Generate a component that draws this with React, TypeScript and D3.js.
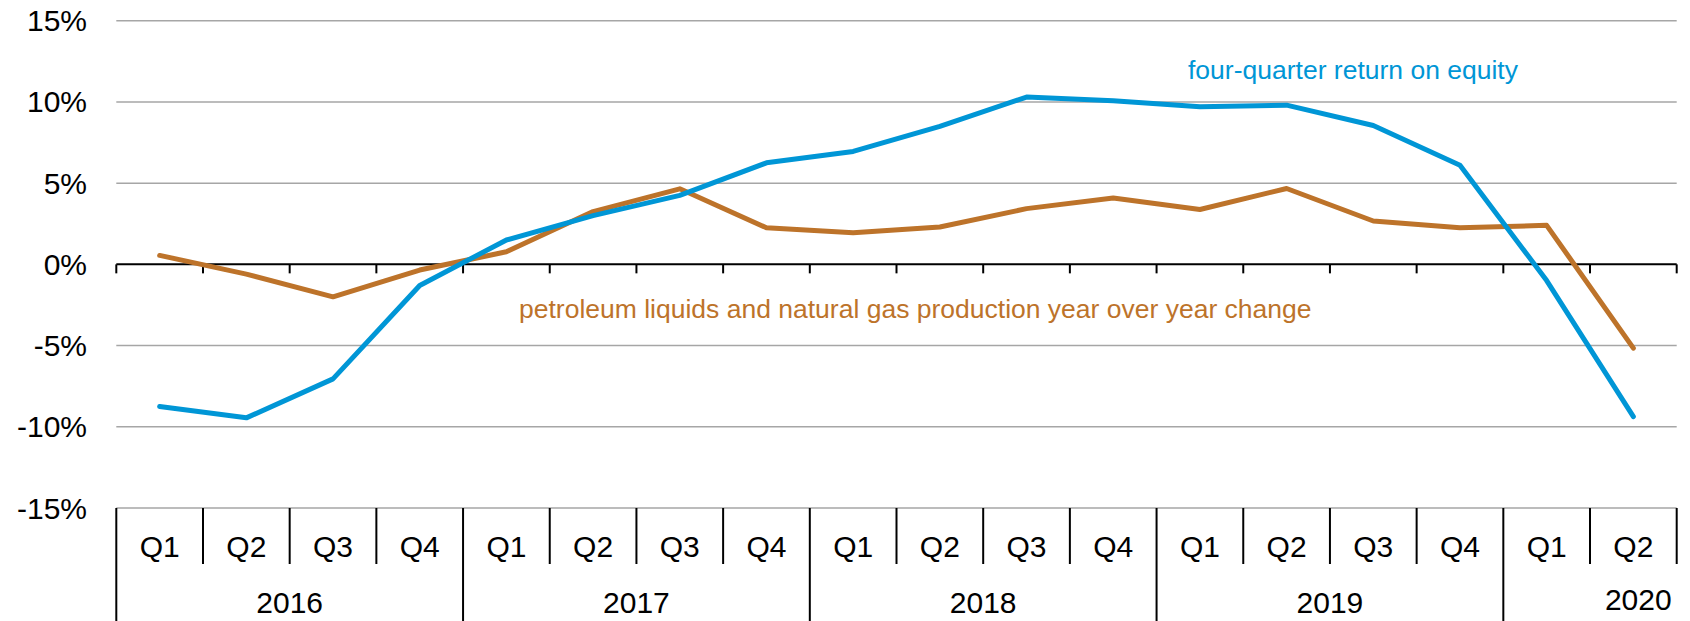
import React from "react";
import * as d3 from "d3";

const quarters = ["Q1", "Q2", "Q3", "Q4", "Q1", "Q2", "Q3", "Q4", "Q1", "Q2", "Q3", "Q4", "Q1", "Q2", "Q3", "Q4", "Q1", "Q2"];
const years = ["2016", "2017", "2018", "2019", "2020"];
const yearOf = [
  "2016", "2016", "2016", "2016",
  "2017", "2017", "2017", "2017",
  "2018", "2018", "2018", "2018",
  "2019", "2019", "2019", "2019",
  "2020", "2020",
];

// four-quarter return on equity (%)
const roe = [-8.75, -9.45, -7.05, -1.3, 1.5, 3.0, 4.25, 6.25, 6.95, 8.5, 10.3, 10.07, 9.7, 9.8, 8.55, 6.1, -1.0, -9.37];
// petroleum liquids and natural gas production, year over year change (%)
const production = [0.55, -0.6, -2.0, -0.35, 0.78, 3.25, 4.65, 2.25, 1.95, 2.3, 3.43, 4.08, 3.38, 4.67, 2.67, 2.26, 2.4, -5.16];

const yTicks = [15, 10, 5, 0, -5, -10, -15];

const W = 1690;
const H = 621;
const left = 116.3;
const right = 1676.7;
const top = 20.7;
const bottom = 508;

const BLUE = "#0096d6";
const ORANGE = "#bd732a";
const FONT = "Liberation Sans, Arial, sans-serif";

export default function App() {
  const idx = quarters.map((_, i) => String(i));
  const x = d3.scaleBand().domain(idx).range([left, right]).padding(0);
  const y = d3.scaleLinear().domain([-15, 15]).range([bottom, top]);
  const bw = x.bandwidth();
  const cx = (i: number) => (x(String(i)) as number) + bw / 2;

  const line = d3
    .line<number>()
    .x((_, i) => cx(i))
    .y((d) => y(d));

  // year group boundaries
  const groups = years.map((yr) => {
    const first = yearOf.indexOf(yr);
    const last = yearOf.lastIndexOf(yr);
    return { yr, x0: x(String(first)) as number, x1: (x(String(last)) as number) + bw };
  });

  const y0 = y(0);
  const catTop = bottom;
  const qBottom = 564;

  return (
    <div style={{ position: "absolute", left: 0, top: 0 }}>
      <svg width={W} height={H} style={{ display: "block", background: "#fff" }}>
        {/* gridlines */}
        {yTicks
          .filter((t) => t !== 0)
          .map((t) => (
            <line key={t} x1={left} x2={right} y1={y(t)} y2={y(t)} stroke="#a6a6a6" strokeWidth={1.5} />
          ))}
        {/* y labels */}
        {yTicks.map((t) => (
          <text
            key={"l" + t}
            x={87}
            y={y(t)}
            dy="0.35em"
            textAnchor="end"
            fontFamily={FONT}
            fontSize={30}
            fill="#000"
          >
            {t + "%"}
          </text>
        ))}
        {/* zero axis with ticks */}
        <line x1={left} x2={right} y1={y0} y2={y0} stroke="#000" strokeWidth={2} />
        {d3.range(quarters.length + 1).map((i) => {
          const xx = left + i * bw;
          return <line key={"t" + i} x1={xx} x2={xx} y1={y0} y2={y0 + 9} stroke="#000" strokeWidth={2} />;
        })}
        {/* category separators */}
        {d3.range(quarters.length + 1).map((i) => {
          const xx = left + i * bw;
          const isYear = groups.some((g) => Math.abs(g.x0 - xx) < 0.5);
          return (
            <line
              key={"c" + i}
              x1={xx}
              x2={xx}
              y1={catTop}
              y2={isYear ? H : qBottom}
              stroke="#000"
              strokeWidth={2}
            />
          );
        })}
        {quarters.map((q, i) => (
          <text
            key={"q" + i}
            x={cx(i)}
            y={546}
            dy="0.35em"
            textAnchor="middle"
            fontFamily={FONT}
            fontSize={30}
            fill="#000"
          >
            {q}
          </text>
        ))}
        {groups.map((g, i) => (
          <text
            key={g.yr}
            x={i === groups.length - 1 ? g.x1 - 5 : (g.x0 + g.x1) / 2}
            y={i === groups.length - 1 ? 599 : 602.5}
            dy="0.35em"
            textAnchor={i === groups.length - 1 ? "end" : "middle"}
            fontFamily={FONT}
            fontSize={30}
            fill="#000"
          >
            {g.yr}
          </text>
        ))}
        {/* series */}
        <path d={line(production) || ""} fill="none" stroke={ORANGE} strokeWidth={5} strokeLinejoin="round" strokeLinecap="round" />
        <path d={line(roe) || ""} fill="none" stroke={BLUE} strokeWidth={5} strokeLinejoin="round" strokeLinecap="round" />
        {/* annotations */}
        <text x={1188} y={79} fontFamily={FONT} fontSize={26.5} fill={BLUE}>
          four-quarter return on equity
        </text>
        <text x={519} y={318} fontFamily={FONT} fontSize={26.5} fill={ORANGE}>
          petroleum liquids and natural gas production year over year change
        </text>
      </svg>
    </div>
  );
}
